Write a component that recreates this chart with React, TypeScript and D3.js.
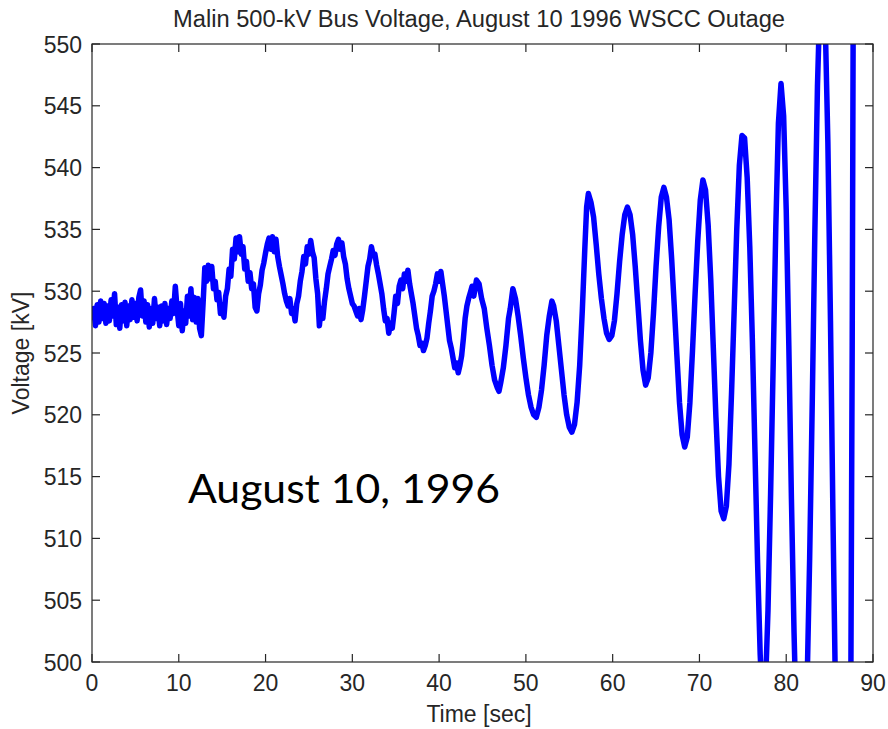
import React from "react";
import * as d3 from "d3";

// Malin 500-kV bus voltage record, [time (s), voltage (kV)]
const preDisturbance: [number, number][] = [
  [0, 527.6], [0.2, 528.6], [0.4, 527.2], [0.6, 528.9], [0.8, 527.5], [1.0, 529.2], [1.2, 527.8],
  [1.4, 529.0], [1.6, 527.4], [1.8, 528.8], [2.0, 527.6], [2.2, 529.3], [2.4, 528.0], [2.6, 529.8],
  [2.8, 527.3], [3.0, 528.7], [3.2, 527.0], [3.4, 528.9], [3.6, 527.6], [3.8, 529.1], [4.0, 527.2],
  [4.2, 528.8], [4.4, 527.7], [4.6, 529.3], [4.8, 527.9], [5.0, 529.0], [5.2, 527.6], [5.4, 529.5],
  [5.6, 530.1], [5.8, 528.0], [6.0, 529.2], [6.2, 527.5], [6.4, 528.9], [6.6, 527.1], [6.8, 528.6],
  [7.0, 527.4], [7.2, 529.4], [7.4, 527.8], [7.6, 528.7], [7.8, 527.2], [8.0, 528.8], [8.2, 527.6],
  [8.4, 529.0], [8.6, 527.3], [8.8, 528.6], [9.0, 527.8], [9.2, 529.2], [9.4, 528.2], [9.6, 530.4],
  [9.8, 528.6], [10.0, 527.2], [10.2, 529.0], [10.4, 526.8], [10.6, 528.4], [10.8, 527.4], [11.0, 529.6],
  [11.2, 528.0], [11.4, 530.2], [11.6, 527.7], [11.8, 529.5], [12.0, 527.5], [12.2, 529.4], [12.4, 527.0],
  [12.6, 526.4], [12.8, 529.0],
];

const growingSwings: [number, number][] = [
  [13.0, 531.9], [13.2, 530.8], [13.4, 532.1], [13.6, 531.0], [13.8, 532.0], [14.0, 530.2], [14.2, 530.8],
  [14.4, 529.3], [14.6, 529.9], [14.8, 528.2], [15.0, 528.9], [15.2, 527.9], [15.4, 529.6], [15.6, 530.2],
  [15.8, 531.8], [16.0, 531.2], [16.2, 533.4], [16.4, 532.6], [16.6, 534.3], [16.8, 533.2], [17.0, 534.4],
  [17.2, 533.0], [17.4, 533.6], [17.6, 531.8], [17.8, 532.4], [18.0, 530.8], [18.2, 531.5], [18.4, 530.2],
  [18.6, 530.6], [18.8, 528.7], [19.0, 528.4], [19.2, 529.8], [19.4, 530.5], [19.6, 531.7], [19.8, 532.3],
  [20.0, 533.1], [20.2, 533.8], [20.4, 534.3], [20.6, 533.4], [20.8, 534.4], [21.0, 533.2], [21.2, 534.2],
  [21.4, 532.8], [21.6, 532.0], [21.8, 531.3], [22.0, 530.6], [22.2, 529.8], [22.4, 529.2], [22.6, 528.8],
  [22.8, 529.4], [23.0, 528.2], [23.2, 528.6], [23.4, 527.6], [23.6, 529.0], [23.8, 529.6], [24.0, 530.8],
  [24.2, 531.6], [24.4, 532.8], [24.6, 532.2], [24.8, 533.6], [25.0, 533.0], [25.2, 534.1], [25.4, 533.2],
  [25.6, 532.7], [25.8, 531.0], [26.0, 529.8], [26.2, 527.2], [26.4, 528.6], [26.6, 527.8], [26.8, 529.2],
  [27.0, 530.2], [27.2, 531.4], [27.4, 532.0], [27.6, 532.6], [27.8, 533.3], [28.0, 532.9], [28.2, 533.8],
  [28.4, 534.2], [28.6, 533.4], [28.8, 533.9], [29.0, 532.8], [29.2, 532.2], [29.4, 531.0], [29.6, 530.2],
  [29.8, 529.6], [30.0, 529.0], [30.2, 528.8], [30.4, 528.4], [30.6, 528.0], [30.8, 528.6], [31.0, 527.7],
  [31.2, 528.5], [31.4, 529.6], [31.6, 530.8], [31.8, 532.0], [32.0, 532.6], [32.2, 533.6], [32.4, 532.9],
  [32.6, 533.0], [32.8, 532.1], [33.0, 531.4], [33.2, 530.6], [33.4, 529.8], [33.6, 528.6], [33.8, 527.6],
  [34.0, 527.8], [34.2, 526.6], [34.4, 527.4], [34.6, 527.0], [34.8, 528.2], [35.0, 529.6], [35.2, 529.0],
  [35.4, 530.4], [35.6, 530.9], [35.8, 530.2], [36.0, 531.4], [36.2, 530.8], [36.4, 531.7], [36.6, 530.6],
  [36.8, 529.8], [37.0, 529.0], [37.2, 528.0], [37.4, 527.0], [37.6, 526.4], [37.8, 525.6], [38.0, 525.8],
  [38.2, 525.2], [38.4, 525.6], [38.6, 526.2], [38.8, 527.4], [39.0, 528.4], [39.2, 529.6], [39.4, 530.0],
  [39.6, 530.6], [39.8, 531.4], [40.0, 530.8], [40.2, 531.6], [40.4, 530.6], [40.6, 529.6], [40.8, 528.4],
  [41.0, 527.2], [41.2, 526.0], [41.4, 525.4], [41.6, 524.6], [41.8, 523.8], [42.0, 524.2], [42.2, 523.4],
  [42.4, 524.0], [42.6, 524.8], [42.8, 526.2], [43.0, 527.8], [43.2, 528.8], [43.4, 529.4], [43.6, 529.9],
  [43.8, 530.4], [44.0, 529.6],
];

const collapse: [number, number][] = [
  [44.3, 530.9], [44.6, 530.6], [44.9, 529.4], [45.2, 528.6], [45.5, 527.0], [45.8, 525.6], [46.1, 524.0],
  [46.4, 522.8], [46.7, 522.2], [46.9, 521.9], [47.1, 522.6], [47.4, 523.8], [47.7, 525.6], [48.0, 527.8],
  [48.2, 528.6], [48.5, 530.2], [48.8, 529.4], [49.1, 528.0], [49.4, 526.4], [49.7, 524.6], [50.0, 523.0],
  [50.3, 521.6], [50.6, 520.6], [50.9, 520.0], [51.2, 519.8], [51.5, 520.6], [51.8, 522.0], [52.1, 524.0],
  [52.4, 526.4], [52.7, 528.0], [53.0, 529.2], [53.2, 528.8], [53.5, 527.6], [53.8, 525.6], [54.1, 523.6],
  [54.4, 521.6], [54.7, 520.0], [55.0, 519.0], [55.3, 518.6], [55.6, 519.2], [55.9, 521.0], [56.2, 524.0],
  [56.5, 528.4], [56.8, 533.6], [57.0, 536.8], [57.2, 537.9], [57.5, 537.2], [57.8, 536.0], [58.1, 533.8],
  [58.4, 531.4], [58.7, 529.4], [59.0, 527.8], [59.3, 526.6], [59.6, 526.1], [59.9, 526.4], [60.2, 527.6],
  [60.5, 529.8], [60.8, 532.4], [61.1, 534.6], [61.4, 536.2], [61.7, 536.8], [62.0, 536.2], [62.3, 534.6],
  [62.6, 532.0], [62.9, 529.0], [63.2, 526.0], [63.5, 523.6], [63.8, 522.4], [64.1, 523.0], [64.4, 525.0],
  [64.7, 528.2], [65.0, 532.0], [65.3, 535.2], [65.6, 537.6], [65.9, 538.4], [66.2, 537.6], [66.5, 535.8],
  [66.8, 532.6], [67.1, 528.8], [67.4, 524.8], [67.7, 521.0], [68.0, 518.4], [68.3, 517.4], [68.6, 518.2],
  [68.9, 521.0], [69.2, 525.2], [69.5, 529.8], [69.8, 534.0], [70.1, 537.4], [70.4, 539.0], [70.7, 538.2],
  [71.0, 535.4], [71.3, 531.0], [71.6, 525.4], [71.9, 519.8], [72.2, 515.0], [72.5, 512.2], [72.8, 511.6],
  [73.1, 512.6], [73.4, 516.0], [73.7, 521.8], [74.0, 528.4], [74.3, 535.0], [74.6, 540.2], [74.9, 542.6],
  [75.2, 542.4], [75.5, 539.2], [75.8, 533.6], [76.1, 526.0], [76.4, 517.0], [76.7, 508.0], [77.0, 500.6],
  [77.3, 496.2], [77.6, 497.8], [77.9, 504.2], [78.2, 513.6], [78.5, 524.2], [78.8, 535.2], [79.1, 543.6],
  [79.4, 546.8], [79.7, 544.2], [80.0, 536.6], [80.3, 525.6], [80.6, 513.2], [80.9, 502.4], [81.2, 494.0],
  [81.5, 489.4], [81.8, 488.6], [82.1, 491.6], [82.4, 498.0], [82.7, 508.4], [83.0, 521.0], [83.3, 534.8],
  [83.6, 546.6], [83.9, 554.0], [84.2, 556.0], [84.5, 551.6], [84.8, 542.0], [85.1, 527.6], [85.4, 511.0],
  [85.7, 496.2], [86.0, 486.0], [86.3, 481.4], [86.6, 481.6], [86.9, 485.0], [87.2, 488.0], [87.4, 490.0],
  [87.6, 525.0], [87.75, 560.0],
];

const xTicks = [0, 10, 20, 30, 40, 50, 60, 70, 80, 90];
const yTicks = [500, 505, 510, 515, 520, 525, 530, 535, 540, 545, 550];

const titleText = "Malin 500-kV Bus Voltage, August 10 1996 WSCC Outage";
const xLabel = "Time [sec]";
const yLabel = "Voltage [kV]";
const noteText = "August 10, 1996";

const W = 888;
const H = 729;
const left = 92;
const right = 873;
const top = 44;
const bottom = 662;
const tickLen = 8;
const axisFont = "Arial, 'Liberation Sans', Helvetica, sans-serif";
const axisColor = "#262626";

export default function App() {
  const x = d3.scaleLinear().domain([0, 90]).range([left, right]);
  const y = d3.scaleLinear().domain([500, 550]).range([bottom, top]);
  const series = [...preDisturbance, ...growingSwings, ...collapse];
  const path = d3
    .line<[number, number]>()
    .x((d) => x(d[0]))
    .y((d) => y(d[1]))(series);

  return (
    <svg
      width={W}
      height={H}
      viewBox={`0 0 ${W} ${H}`}
      style={{ position: "absolute", left: 0, top: 0, background: "#fff" }}
    >
      <defs>
        <clipPath id="plot-area">
          <rect x={left} y={top} width={right - left} height={bottom - top} />
        </clipPath>
      </defs>
      <rect x={0} y={0} width={W} height={H} fill="#fff" />

      <path
        d={path ?? ""}
        fill="none"
        stroke="#0000ff"
        strokeWidth={5.5}
        strokeLinejoin="round"
        clipPath="url(#plot-area)"
      />

      {/* axes box */}
      <rect
        x={left}
        y={top}
        width={right - left}
        height={bottom - top}
        fill="none"
        stroke={axisColor}
        strokeWidth={1.2}
      />

      {xTicks.map((t) => (
        <g key={`x${t}`}>
          <line x1={x(t)} x2={x(t)} y1={bottom} y2={bottom - tickLen} stroke={axisColor} strokeWidth={1.2} />
          <line x1={x(t)} x2={x(t)} y1={top} y2={top + tickLen} stroke={axisColor} strokeWidth={1.2} />
          <text
            x={x(t)}
            y={691}
            textAnchor="middle"
            fontFamily={axisFont}
            fontSize={23}
            fill={axisColor}
          >
            {t}
          </text>
        </g>
      ))}

      {yTicks.map((v) => (
        <g key={`y${v}`}>
          <line x1={left} x2={left + tickLen} y1={y(v)} y2={y(v)} stroke={axisColor} strokeWidth={1.2} />
          <line x1={right} x2={right - tickLen} y1={y(v)} y2={y(v)} stroke={axisColor} strokeWidth={1.2} />
          <text
            x={82}
            y={y(v) + 8.5}
            textAnchor="end"
            fontFamily={axisFont}
            fontSize={23}
            fill={axisColor}
          >
            {v}
          </text>
        </g>
      ))}

      <text
        x={479}
        y={27}
        textAnchor="middle"
        fontFamily={axisFont}
        fontSize={23.5}
        fill={axisColor}
        textLength={612}
        lengthAdjust="spacingAndGlyphs"
      >
        {titleText}
      </text>

      <text
        x={479}
        y={722}
        textAnchor="middle"
        fontFamily={axisFont}
        fontSize={23}
        fill={axisColor}
      >
        {xLabel}
      </text>

      <text
        transform={`translate(29, ${(top + bottom) / 2}) rotate(-90)`}
        textAnchor="middle"
        fontFamily={axisFont}
        fontSize={23}
        fill={axisColor}
      >
        {yLabel}
      </text>

      <text
        x={188}
        y={503}
        fontFamily="Lato, 'Open Sans', 'Noto Sans', sans-serif"
        fontSize={40}
        fill="#000"
        textLength={312}
        lengthAdjust="spacingAndGlyphs"
      >
        {noteText}
      </text>
    </svg>
  );
}
